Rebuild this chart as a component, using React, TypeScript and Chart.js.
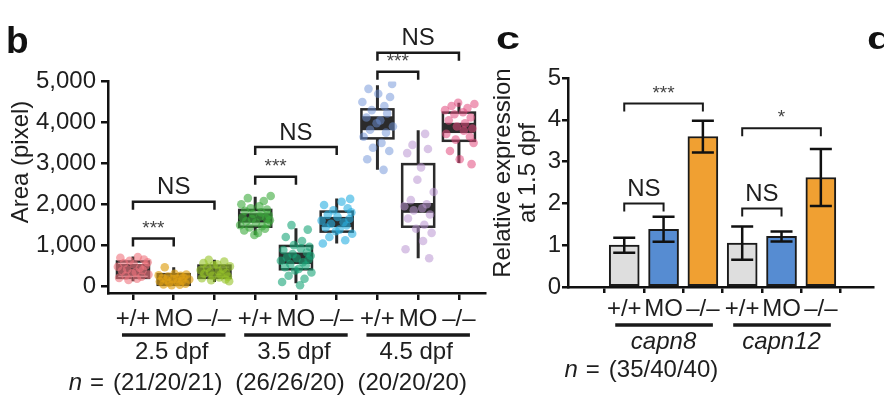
import React, { useEffect, useRef } from "react";
import { Chart, registerables } from "chart.js";

Chart.register(...registerables);

const FONT = "'Liberation Sans', Arial, Helvetica, sans-serif";

// ---------- Panel b data ----------
const B_CATEGORIES = ["+/+", "MO", "\u2013/\u2013", "+/+", "MO", "\u2013/\u2013", "+/+", "MO", "\u2013/\u2013"];
const B_GROUPS = ["2.5 dpf", "3.5 dpf", "4.5 dpf"];
const B_COUNTS = ["(21/20/21)", "(26/26/20)", "(20/20/20)"];
const B_Y_TICKS = [0, 1000, 2000, 3000, 4000, 5000];

const B_PTS_25_WT = [710, 690, 650, 620, 580, 560, 530, 500, 470, 440, 410, 390, 370, 340, 310, 280, 250, 230, 200, 180, 150];
const B_PTS_25_MO = [460, 300, 280, 260, 250, 230, 210, 200, 180, 170, 160, 150, 130, 110, 100, 80, 60, 40, 30, 20];
const B_PTS_25_KO = [640, 600, 560, 530, 510, 480, 450, 420, 390, 360, 340, 320, 300, 280, 250, 230, 210, 190, 160, 140, 120];
const B_PTS_35_WT = [2200, 2150, 2080, 2000, 1950, 1900, 1870, 1840, 1800, 1760, 1730, 1700, 1680, 1660, 1640, 1610, 1580, 1550, 1520, 1490, 1460, 1430, 1400, 1360, 1300, 1250];
const B_PTS_35_MO = [1490, 1380, 1200, 1100, 1000, 960, 920, 880, 820, 780, 740, 700, 680, 650, 620, 580, 540, 500, 460, 420, 380, 330, 250, 180, 100, 20];
const B_PTS_35_KO = [2130, 2060, 1980, 1900, 1850, 1800, 1740, 1690, 1640, 1600, 1560, 1520, 1480, 1430, 1380, 1340, 1280, 1200, 1120, 1040];
const B_PTS_45_WT = [4940, 4820, 4700, 4620, 4500, 4400, 4300, 4220, 4120, 4050, 3980, 3900, 3820, 3750, 3650, 3500, 3380, 3300, 3100, 2840];
const B_PTS_45_MO = [3720, 3450, 3350, 3250, 2900, 2600, 2300, 2100, 2000, 1950, 1900, 1850, 1750, 1650, 1500, 1400, 1300, 1100, 900, 680];
const B_PTS_45_KO = [4480, 4450, 4400, 4350, 4300, 4250, 4200, 4120, 4050, 3980, 3900, 3850, 3800, 3720, 3650, 3580, 3500, 3300, 3100, 2980];

const B_WHISKER_LOW = [120, 0, 100, 1250, 70, 1040, 2840, 680, 3010];
const B_Q1 = [200, 30, 200, 1450, 410, 1330, 3610, 1450, 3550];
const B_BAND_LOW = [250, 50, 230, 1550, 540, 1440, 3810, 1790, 3740];
const B_BAND_HIGH = [540, 260, 460, 1780, 820, 1690, 4150, 2030, 3990];
const B_Q3 = [600, 290, 500, 1860, 980, 1820, 4320, 2980, 4240];
const B_WHISKER_HIGH = [720, 460, 640, 2180, 1410, 2140, 4910, 3810, 4480];

// significance brackets: [fromIndex, toIndex, yValue, label]
const B_BRACKETS = [
  [0, 1, 1165, "***"],
  [0, 2, 2060, "NS"],
  [3, 4, 2670, "***"],
  [3, 5, 3400, "NS"],
  [6, 7, 5240, "***"],
  [6, 8, 5700, "NS"],
];

// ---------- Panel c data ----------
const C_CATEGORIES = ["+/+", "MO", "\u2013/\u2013", "+/+", "MO", "\u2013/\u2013"];
const C_GENES = ["capn8", "capn12"];
const C_COUNTS = "(35/40/40)";
const C_MEANS = [1.0, 1.38, 3.6, 1.05, 1.21, 2.62];
const C_ERRORS = [0.18, 0.3, 0.38, 0.4, 0.12, 0.68];
const C_Y_TICKS = [0, 1, 2, 3, 4, 5];
const C_BRACKETS = [
  [0, 2, 4.39, "***"],
  [0, 1, 2.0, "NS"],
  [3, 5, 3.8, "*"],
  [3, 4, 1.88, "NS"],
];

// ---------- styles ----------
const JITTER = [0.12, -0.31, 0.27, -0.08, 0.36, -0.22, 0.02, 0.31, -0.37, 0.17, -0.14, 0.24, -0.27, 0.07, -0.02, 0.38, -0.18, 0.21, -0.34, 0.10, -0.11, 0.29, -0.25, 0.15, -0.05, 0.33];
const B_POINT_COLORS = [
  "rgba(238,115,125,0.6)",
  "rgba(222,160,20,0.65)",
  "rgba(150,195,40,0.6)",
  "rgba(60,170,60,0.6)",
  "rgba(25,165,120,0.6)",
  "rgba(40,175,225,0.6)",
  "rgba(110,145,215,0.5)",
  "rgba(185,150,210,0.55)",
  "rgba(225,75,125,0.55)",
];
const C_BAR_COLORS = ["#dedede", "#568cd2", "#f0a032", "#dedede", "#568cd2", "#f0a032"];
const DARK = "#2b2b2b";
const TEXT = "#1e1e1e";

const B_POINTS = [B_PTS_25_WT, B_PTS_25_MO, B_PTS_25_KO, B_PTS_35_WT, B_PTS_35_MO, B_PTS_35_KO, B_PTS_45_WT, B_PTS_45_MO, B_PTS_45_KO];

function drawBracket(ctx: any, x1: number, x2: number, yl: number, label: string, lw: number) {
  ctx.save();
  ctx.strokeStyle = "#1a1a1a";
  ctx.lineWidth = lw;
  ctx.beginPath();
  ctx.moveTo(x1, yl + 8);
  ctx.lineTo(x1, yl);
  ctx.lineTo(x2, yl);
  ctx.lineTo(x2, yl + 8);
  ctx.stroke();
  ctx.textAlign = "center";
  ctx.textBaseline = "middle";
  const cx = (x1 + x2) / 2;
  if (label === "NS") {
    ctx.fillStyle = TEXT;
    ctx.font = `24px ${FONT}`;
    ctx.fillText(label, cx, yl - 14);
  } else {
    ctx.fillStyle = "#444";
    ctx.font = `19px ${FONT}`;
    ctx.fillText(label, cx, yl - 10);
  }
  ctx.restore();
}

const boxPlugin = {
  id: "boxes",
  beforeDatasetsDraw(chart: any) {
    const { ctx, scales } = chart;
    const x = scales.x, y = scales.y;
    ctx.save();
    for (let g = 0; g < B_Q1.length; g++) {
      const xc = x.getPixelForValue(g);
      const half = 16;
      ctx.strokeStyle = DARK;
      ctx.lineWidth = 3;
      ctx.beginPath();
      ctx.moveTo(xc, y.getPixelForValue(B_WHISKER_LOW[g]));
      ctx.lineTo(xc, y.getPixelForValue(B_Q1[g]));
      ctx.moveTo(xc, y.getPixelForValue(B_Q3[g]));
      ctx.lineTo(xc, y.getPixelForValue(B_WHISKER_HIGH[g]));
      ctx.stroke();
      const top = y.getPixelForValue(B_Q3[g]);
      const bot = y.getPixelForValue(B_Q1[g]);
      ctx.fillStyle = "#fff";
      ctx.fillRect(xc - half, top, half * 2, bot - top);
      const bt = y.getPixelForValue(B_BAND_HIGH[g]);
      const bb = y.getPixelForValue(B_BAND_LOW[g]);
      ctx.fillStyle = DARK;
      ctx.fillRect(xc - half, bt, half * 2, bb - bt);
      ctx.lineWidth = 2.5;
      ctx.strokeRect(xc - half, top, half * 2, bot - top);
    }
    ctx.restore();
  },
  afterDraw(chart: any) {
    const { ctx, scales } = chart;
    const x = scales.x, y = scales.y;
    for (const [a, b, v, label] of B_BRACKETS as any) {
      drawBracket(ctx, x.getPixelForValue(a), x.getPixelForValue(b), y.getPixelForValue(v), label, 2.5);
    }
    ctx.save();
    ctx.fillStyle = TEXT;
    ctx.strokeStyle = "#1a1a1a";
    ctx.textBaseline = "middle";
    ctx.textAlign = "center";
    for (let gi = 0; gi < B_GROUPS.length; gi++) {
      const x0 = x.getPixelForValue(gi * 3) - 11;
      const x2 = x.getPixelForValue(gi * 3 + 2) + 11;
      const xm = x.getPixelForValue(gi * 3 + 1);
      ctx.lineWidth = 3.5;
      ctx.beginPath();
      ctx.moveTo(x0, 335);
      ctx.lineTo(x2, 335);
      ctx.stroke();
      ctx.font = `24px ${FONT}`;
      ctx.fillText(B_GROUPS[gi], xm - 2, 352);
      ctx.fillText(B_COUNTS[gi], xm - 6, 383);
    }
    // "n =" prefix
    ctx.font = `24px ${FONT}`;
    const w0 = ctx.measureText(B_COUNTS[0]).width;
    const left0 = x.getPixelForValue(1) - 6 - w0 / 2;
    ctx.textAlign = "right";
    ctx.fillText("=", left0 - 9, 383);
    const eqW = ctx.measureText("=").width;
    ctx.font = `italic 24px ${FONT}`;
    ctx.fillText("n", left0 - 9 - eqW - 8, 383);
    // y title
    ctx.translate(21, 162);
    ctx.rotate(-Math.PI / 2);
    ctx.textAlign = "center";
    ctx.font = `24px ${FONT}`;
    ctx.fillText("Area (pixel)", 0, 0);
    ctx.restore();
  },
};

const barPlugin = {
  id: "bars",
  afterDatasetsDraw(chart: any) {
    const { ctx, scales } = chart;
    const x = scales.x, y = scales.y;
    ctx.save();
    ctx.strokeStyle = "#111";
    ctx.lineWidth = 2.5;
    for (let i = 0; i < C_MEANS.length; i++) {
      const xc = x.getPixelForValue(i);
      const yt = y.getPixelForValue(C_MEANS[i] + C_ERRORS[i]);
      const yb = y.getPixelForValue(C_MEANS[i] - C_ERRORS[i]);
      ctx.beginPath();
      ctx.moveTo(xc, yt);
      ctx.lineTo(xc, yb);
      ctx.moveTo(xc - 11, yt);
      ctx.lineTo(xc + 11, yt);
      ctx.moveTo(xc - 11, yb);
      ctx.lineTo(xc + 11, yb);
      ctx.stroke();
    }
    ctx.restore();
  },
  afterDraw(chart: any) {
    const { ctx, scales } = chart;
    const x = scales.x, y = scales.y;
    for (const [a, b, v, label] of C_BRACKETS as any) {
      drawBracket(ctx, x.getPixelForValue(a), x.getPixelForValue(b), y.getPixelForValue(v), label, 2);
    }
    ctx.save();
    ctx.fillStyle = TEXT;
    ctx.strokeStyle = "#1a1a1a";
    ctx.textBaseline = "middle";
    ctx.textAlign = "center";
    for (let gi = 0; gi < C_GENES.length; gi++) {
      const x0 = x.getPixelForValue(gi * 3) - 9;
      const x2 = x.getPixelForValue(gi * 3 + 2) + 10;
      const xm = x.getPixelForValue(gi * 3 + 1);
      ctx.lineWidth = 3.5;
      ctx.beginPath();
      ctx.moveTo(x0, 325);
      ctx.lineTo(x2, 325);
      ctx.stroke();
      ctx.font = `italic 24px ${FONT}`;
      ctx.fillText(C_GENES[gi], xm, 342);
    }
    ctx.font = `24px ${FONT}`;
    const xm0 = x.getPixelForValue(1);
    ctx.fillText(C_COUNTS, xm0, 370);
    const w0 = ctx.measureText(C_COUNTS).width;
    const left0 = xm0 - w0 / 2;
    ctx.textAlign = "right";
    ctx.fillText("=", left0 - 9, 370);
    const eqW = ctx.measureText("=").width;
    ctx.font = `italic 24px ${FONT}`;
    ctx.fillText("n", left0 - 9 - eqW - 8, 370);
    // y title (two lines)
    ctx.textAlign = "center";
    ctx.font = `24px ${FONT}`;
    ctx.save();
    ctx.translate(13, 173);
    ctx.rotate(-Math.PI / 2);
    ctx.fillText("Relative expression", 0, 0);
    ctx.restore();
    ctx.translate(38, 173);
    ctx.rotate(-Math.PI / 2);
    ctx.fillText("at 1.5 dpf", 0, 0);
    ctx.restore();
  },
};

function axisCommon(tickLength: number) {
  return {
    grid: { display: true, drawOnChartArea: false, drawTicks: true, tickLength, color: "#111", lineWidth: 2.5 },
    border: { display: true, color: "#111", width: 2.5 },
  };
}

export default function App() {
  const refB = useRef<HTMLCanvasElement>(null);
  const refC = useRef<HTMLCanvasElement>(null);

  useEffect(() => {
    const chartB = new Chart(refB.current as HTMLCanvasElement, {
      type: "scatter",
      data: {
        datasets: B_POINTS.map((pts, g) => ({
          data: pts.map((v, k) => ({ x: g + JITTER[(k + g * 5) % JITTER.length], y: v })),
          backgroundColor: B_POINT_COLORS[g],
          borderWidth: 0,
          pointRadius: 4.3,
        })),
      },
      options: {
        responsive: false,
        animation: false,
        events: [],
        layout: { padding: { top: 81.5, right: 5, left: 0, bottom: 0 } },
        plugins: { legend: { display: false }, tooltip: { enabled: false } },
        scales: {
          x: {
            type: "linear",
            min: -0.613,
            max: 8.64,
            afterBuildTicks: (s: any) => {
              s.ticks = B_CATEGORIES.map((_, i) => ({ value: i }));
            },
            afterFit: (s: any) => {
              s.height = 398 - 293;
            },
            ticks: {
              callback: (v: any) => B_CATEGORIES[Math.round(v)] ?? "",
              font: { size: 24, family: FONT },
              color: TEXT,
              padding: 5,
              maxRotation: 0,
              minRotation: 0,
              autoSkip: false,
            },
            ...axisCommon(7),
          },
          y: {
            type: "linear",
            min: -170,
            max: 5000,
            afterBuildTicks: (s: any) => {
              s.ticks = B_Y_TICKS.map((v) => ({ value: v }));
            },
            afterFit: (s: any) => {
              s.width = 108;
            },
            ticks: {
              callback: (v: any) => Number(v).toLocaleString("en-US"),
              font: { size: 24, family: FONT },
              color: TEXT,
              padding: 5,
            },
            ...axisCommon(7),
          },
        },
      } as any,
      plugins: [boxPlugin],
    });

    const chartC = new Chart(refC.current as HTMLCanvasElement, {
      type: "bar",
      data: {
        datasets: [
          {
            data: C_MEANS.map((m, i) => ({ x: i, y: m })),
            backgroundColor: C_BAR_COLORS,
            borderColor: "#1a1a1a",
            borderWidth: 2,
            borderSkipped: false,
            barThickness: 30,
          },
        ],
      },
      options: {
        responsive: false,
        animation: false,
        events: [],
        layout: { padding: { top: 78, right: 11, left: 0, bottom: 0 } },
        plugins: { legend: { display: false }, tooltip: { enabled: false } },
        scales: {
          x: {
            type: "linear",
            min: -0.784,
            max: 5.68,
            afterBuildTicks: (s: any) => {
              s.ticks = C_CATEGORIES.map((_, i) => ({ value: i }));
            },
            afterFit: (s: any) => {
              s.height = 398 - 287;
            },
            ticks: {
              callback: (v: any) => C_CATEGORIES[Math.round(v)] ?? "",
              font: { size: 24, family: FONT },
              color: TEXT,
              padding: 2,
              maxRotation: 0,
              minRotation: 0,
              autoSkip: false,
            },
            ...axisCommon(6),
          },
          y: {
            type: "linear",
            min: 0,
            max: 5,
            afterBuildTicks: (s: any) => {
              s.ticks = C_Y_TICKS.map((v) => ({ value: v }));
            },
            afterFit: (s: any) => {
              s.width = 78;
            },
            ticks: {
              font: { size: 24, family: FONT },
              color: TEXT,
              padding: 1,
            },
            ...axisCommon(6),
          },
        },
      } as any,
      plugins: [barPlugin],
    });

    return () => {
      chartB.destroy();
      chartC.destroy();
    };
  }, []);

  const letter: React.CSSProperties = {
    position: "absolute",
    fontFamily: FONT,
    fontWeight: 900,
    lineHeight: 1,
    color: "#111",
  };

  return (
    <div style={{ position: "fixed", left: 0, top: 0, width: 884, height: 398, background: "#fff", overflow: "hidden" }}>
      <canvas ref={refB} width={490} height={398} style={{ position: "absolute", left: 0, top: 0 }} />
      <canvas ref={refC} width={394} height={398} style={{ position: "absolute", left: 490, top: 0 }} />
      <div style={{ ...letter, left: 6, top: 22, fontSize: 37 }}>b</div>
      <div style={{ ...letter, left: 496, top: 22, fontSize: 32, transform: "scaleX(1.35)", transformOrigin: "left" }}>c</div>
      <div style={{ ...letter, left: 867, top: 22, fontSize: 32, transform: "scaleX(1.35)", transformOrigin: "left" }}>d</div>
    </div>
  );
}
